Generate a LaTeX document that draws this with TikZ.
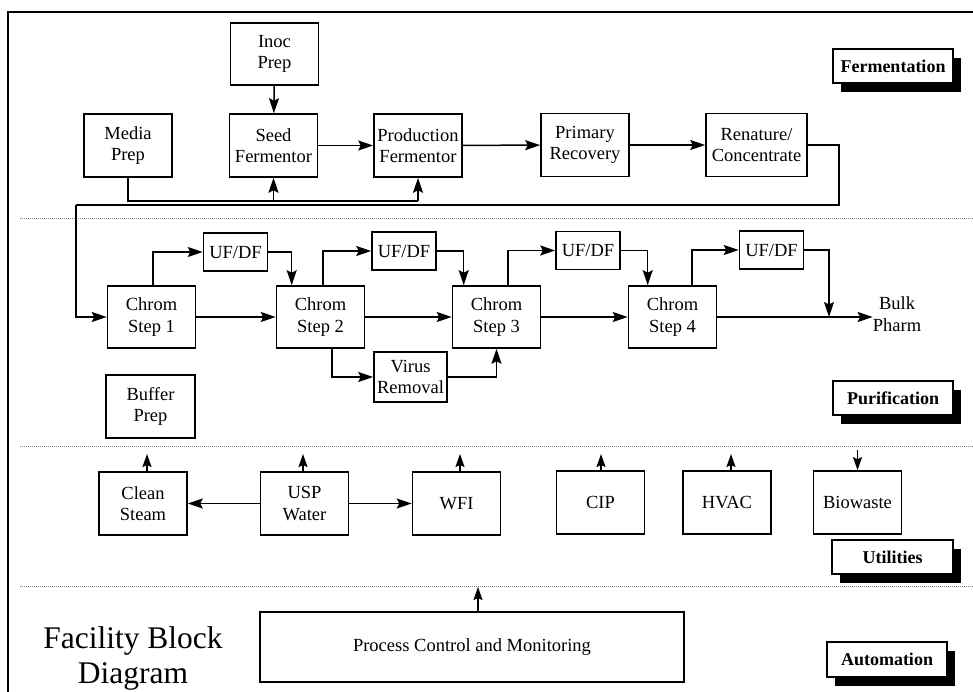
\documentclass[tikz,border=0pt]{standalone}
\usepackage{fontspec}
\setmainfont{Liberation Serif}
\usetikzlibrary{arrows.meta,calc,shadows}
\begin{document}
\begin{tikzpicture}[x=1pt,y=-1pt,
  box/.style={draw,line width=1.6pt,fill=white,align=center,inner sep=1pt,
    minimum width=88pt,minimum height=63pt,font=\fontsize{18.5}{21.5}\selectfont},
  ufbox/.style={box,minimum width=64pt,minimum height=38pt},
  lbl/.style={draw,line width=1.4pt,fill=white,minimum width=120pt,minimum height=34pt,
    font=\bfseries\fontsize{18}{20}\selectfont,
    drop shadow={shadow xshift=8pt,shadow yshift=-9pt,fill=black,opacity=1}},
  arr/.style={line width=1.5pt,-{Stealth[length=15pt,width=10pt,inset=2.5pt]}},
  sarr/.style={line width=1.5pt,-{Stealth[length=13pt,width=9pt,inset=2pt]}},
  ln/.style={line width=1.5pt},
  sep/.style={draw=gray,line width=1pt,dash pattern=on 1pt off 1pt}]
\useasboundingbox (0,0) rectangle (973,692);
\begin{scope}
\clip (0,0) rectangle (973,692);
\draw[line width=2.6pt] (8,700) -- (8,12) -- (980,12);
\end{scope}
% separators
\draw[sep] (20,219) -- (973,219);
\draw[sep] (20,446) -- (973,446);
\draw[sep] (20,586) -- (973,586);

% Fermentation
\node[box,minimum height=62pt] (ip) at (274.5,54) {Inoc\\Prep};
\node[box] (mp) at (128,145.5) {Media\\Prep};
\node[box] (sf) at (273.5,145.5) {Seed\\Fermentor};
\node[box] (pf) at (418,145.5) {Production\\Fermentor};
\node[box] (pr) at (585,145) {Primary\\Recovery};
\node[box,minimum width=101pt] (rc) at (756.5,145) {Renature/\\Concentrate};
\node[lbl] (lf) at (893,66) {Fermentation};

\draw[arr] (ip) -- (sf);
\draw[arr] (sf) -- (pf);
\draw[arr] (pf) -- (pr);
\draw[arr] (pr) -- (rc);
\coordinate (mj) at (418,201);
\draw[ln] (mp.south) |- (mj);
\draw[arr] (mj) -- (pf.south);
\draw[arr] (sf.south |- mj) -- (sf.south);

% Purification
\node[box,minimum height=62pt] (c1) at (151.5,317) {Chrom\\Step 1};
\node[box,minimum height=62pt] (c2) at (320.5,317) {Chrom\\Step 2};
\node[box,minimum height=62pt] (c3) at (496.5,317) {Chrom\\Step 3};
\node[box,minimum height=62pt] (c4) at (672.5,317) {Chrom\\Step 4};
\node[ufbox] (u1) at (235.5,252) {UF/DF};
\node[ufbox] (u2) at (404,251) {UF/DF};
\node[ufbox] (u3) at (588,250.5) {UF/DF};
\node[ufbox] (u4) at (771.5,250) {UF/DF};
\node[box,minimum width=73pt,minimum height=50pt] (vr) at (410.5,377) {Virus\\Removal};
\node[box,minimum width=89pt] (bp) at (150.5,406.5) {Buffer\\Prep};
\node[align=center,font=\fontsize{18.5}{21.5}\selectfont,inner sep=0pt] (bk) at (897,314) {Bulk\\Pharm};
\node[lbl] (lp) at (893,398) {Purification};

\coordinate (fa) at (839,145);
\coordinate (fb) at (839,205);
\coordinate (fc) at (76,205);
\draw[ln] (rc.east |- fa) -- (fa) -- (fb) -- (fc);
\draw[arr] (fc) |- (c1.west);

\draw[arr] (c1) -- (c2);
\draw[arr] (c2) -- (c3);
\draw[arr] (c3) -- (c4);
\coordinate (bj) at (829,317);
\draw[arr] (c4) -- (bk.west |- c4);
\draw[arr] ([xshift=1.5pt]c1.north) |- (u1.west);
\draw[arr] (u1.east) -| ([xshift=16pt]c2.north west);
\draw[arr] ([xshift=2.5pt]c2.north) |- (u2.west);
\draw[arr] (u2.east) -| ([xshift=12pt]c3.north west);
\draw[arr] ([xshift=11.5pt]c3.north) |- (u3.west);
\draw[arr] (u3.east) -| ([xshift=20pt]c4.north west);
\draw[arr] ([xshift=19.5pt]c4.north) |- (u4.west);
\draw[arr] (u4.east) -| (bj);
\draw[arr] ([xshift=11.5pt]c2.south) |- (vr.west);
\draw[arr] (vr.east) -| (c3.south);

% Utilities
\node[box] (cs) at (143,503.5) {Clean\\Steam};
\node[box] (us) at (304.5,503.5) {USP\\Water};
\node[box] (wf) at (456.5,503.5) {WFI};
\node[box] (ci) at (600.5,502.5) {CIP};
\node[box] (hv) at (727,502.5) {HVAC};
\node[box] (bw) at (857.5,502.5) {Biowaste};
\node[lbl,minimum width=121pt] (lu) at (892.5,557) {Utilities};

\draw[arr] (us) -- (cs);
\draw[arr] (us) -- (wf);
\coordinate (t1) at (147,454);
\coordinate (t2) at (303,454);
\coordinate (t3) at (460,454);
\coordinate (t4) at (601,454);
\coordinate (t5) at (731,454);
\coordinate (t6) at (857.5,450);
\draw[sarr] (cs.north -| t1) -- (t1);
\draw[sarr] (us.north -| t2) -- (t2);
\draw[sarr] (wf.north -| t3) -- (t3);
\draw[sarr] (ci.north -| t4) -- (t4);
\draw[sarr] (hv.north -| t5) -- (t5);
\draw[sarr] (t6) -- (bw.north);

% Automation
\node[box,minimum width=424pt,minimum height=70pt] (pc) at (472,647) {Process Control and Monitoring};
\coordinate (t7) at (478,587);
\draw[sarr] (pc.north -| t7) -- (t7);
\node[lbl,minimum height=35pt] (la) at (887,659.5) {Automation};

\node[anchor=base,font=\fontsize{31.5}{35}\selectfont,inner sep=0pt] (ti1) at (133,648) {Facility Block};
\node[anchor=base,font=\fontsize{31.5}{35}\selectfont,inner sep=0pt] (ti2) at (133,683) {Diagram};
\end{tikzpicture}
\end{document}
